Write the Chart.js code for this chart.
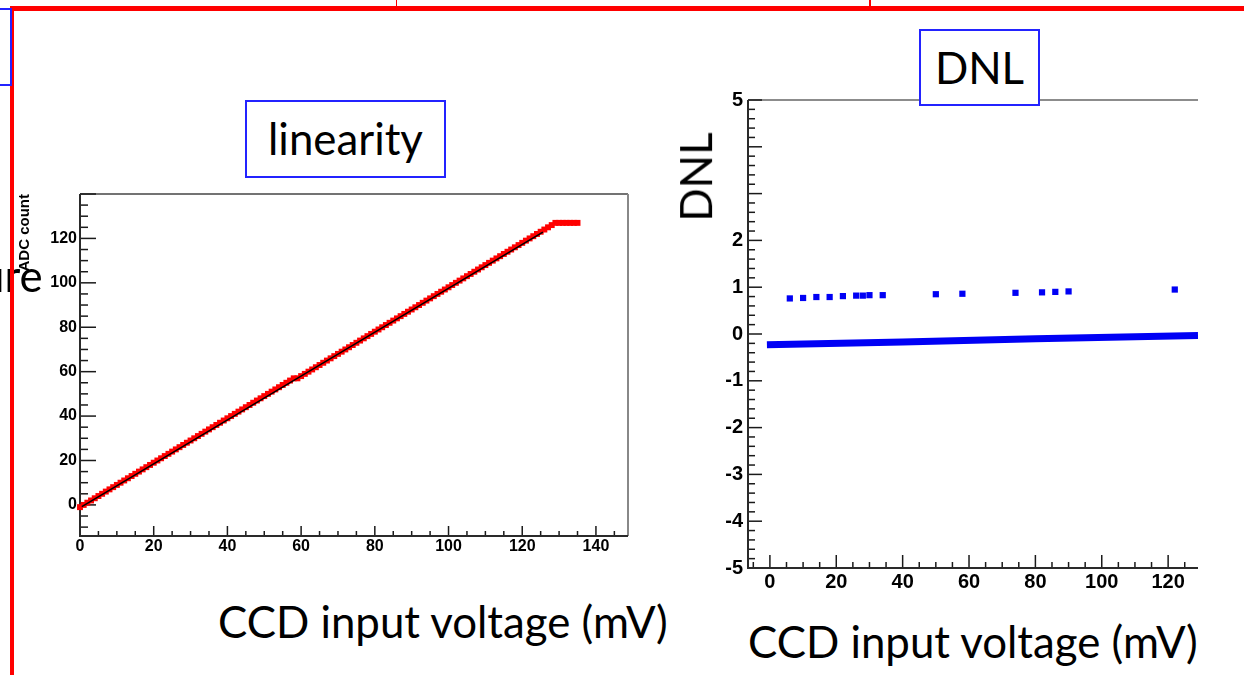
<!DOCTYPE html>
<html>
<head>
<meta charset="utf-8">
<script src="https://cdn.jsdelivr.net/npm/chart.js@4/dist/chart.umd.min.js"></script>
<style>
  html, body { margin: 0; padding: 0; background: #fff; overflow: hidden; }
  #slide { position: relative; width: 1244px; height: 675px; overflow: hidden; background: #fff; }
  canvas { position: absolute; }
  .txt { position: absolute; font-family: Lato, 'Open Sans', sans-serif; font-size: 43.8px; line-height: 1; color: #000; white-space: nowrap; }
  .box { position: absolute; box-sizing: border-box; border: 2px solid #2323ff; background: #fff;
         display: flex; align-items: center; justify-content: center; }
  .red { position: absolute; background: #ff0000; }
</style>
</head>
<body>
<div id="slide">
  <canvas id="linChart" width="630" height="380" style="left:10px;top:180px"></canvas>
  <canvas id="dnlChart" width="520" height="520" style="left:690px;top:85px"></canvas>

  <div class="txt" style="left:-20px;top:254px">ure</div>
  <div class="txt" style="left:218px;top:600px">CCD input voltage (mV)</div>
  <div class="txt" style="left:748px;top:620px">CCD input voltage (mV)</div>
  <div class="txt" style="left:696px;top:176.5px;transform:translate(-50%,-50%) rotate(-90deg)">DNL</div>

  <div class="red" style="left:9.5px;top:6.3px;width:1240px;height:4.4px"></div>
  <div class="red" style="left:9.5px;top:6.3px;width:4.5px;height:670px"></div>
  <div class="red" style="left:396.2px;top:0;width:1.3px;height:7px"></div>
  <div class="red" style="left:869.4px;top:0;width:1.3px;height:7px"></div>

  <div class="box" style="left:-3px;top:8px;width:15px;height:78px"></div>
  <div class="box txt" style="left:245px;top:100px;width:201px;height:78px">linearity</div>
  <div class="box txt" style="left:919px;top:29px;width:121px;height:77px">DNL</div>
</div>

<script>
// linearity scan: ADC output code per input step
const inputMv = [
  0, 1, 2, 3, 4, 5, 6, 7, 8, 9, 10, 11, 12, 13, 14, 15, 16, 17, 18, 19,
  20, 21, 22, 23, 24, 25, 26, 27, 28, 29, 30, 31, 32, 33, 34, 35, 36, 37, 38, 39,
  40, 41, 42, 43, 44, 45, 46, 47, 48, 49, 50, 51, 52, 53, 54, 55, 56, 57, 58, 59,
  60, 61, 62, 63, 64, 65, 66, 67, 68, 69, 70, 71, 72, 73, 74, 75, 76, 77, 78, 79,
  80, 81, 82, 83, 84, 85, 86, 87, 88, 89, 90, 91, 92, 93, 94, 95, 96, 97, 98, 99,
  100, 101, 102, 103, 104, 105, 106, 107, 108, 109, 110, 111, 112, 113, 114, 115, 116, 117, 118, 119,
  120, 121, 122, 123, 124, 125, 126, 127, 128, 129, 130, 131, 132, 133, 134, 135
];
const adcCount = [
  -1, 0, 1, 2, 3, 4, 5, 6, 7, 8, 9, 10, 11, 12, 13, 14, 15, 16, 17, 18,
  19, 20, 21, 22, 23, 24, 25, 26, 27, 28, 29, 30, 31, 32, 33, 34, 35, 36, 37, 38,
  39, 40, 41, 42, 43, 44, 45, 46, 47, 48, 49, 50, 51, 52, 53, 54, 55, 56, 57, 57,
  58, 59, 60, 61, 62, 63, 64, 65, 66, 67, 68, 69, 70, 71, 72, 73, 74, 75, 76, 77,
  78, 79, 80, 81, 82, 83, 84, 85, 86, 87, 88, 89, 90, 91, 92, 93, 94, 95, 96, 97,
  98, 99, 100, 101, 102, 103, 104, 105, 106, 107, 108, 109, 110, 111, 112, 113, 114, 115, 116, 117,
  118, 119, 120, 121, 122, 123, 124, 125, 126, 127, 127, 127, 127, 127, 127, 127
];
// straight-line fit over the linear range
const fitMv = [0.5, 125.6];
const fitCount = [-0.8, 122.8];

// DNL per code: bulk of codes and the wide ones
const dnlBandMv = [-0.9, 40, 80, 129];
const dnlBandVal = [-0.23, -0.17, -0.10, -0.03];
const dnlPeakMv = [6, 10, 14, 18, 22, 26, 28, 30, 34, 50, 58, 74, 82, 86, 90, 122];
const dnlPeakVal = [0.76, 0.77, 0.79, 0.79, 0.81, 0.82, 0.82, 0.83, 0.83, 0.85, 0.86, 0.88, 0.89, 0.90, 0.91, 0.95];

// tick labels
const linXTicks = [0, 20, 40, 60, 80, 100, 120, 140];
const linYTicks = [0, 20, 40, 60, 80, 100, 120];
const dnlXTicks = [0, 20, 40, 60, 80, 100, 120];
const dnlYTicks = [-5, -4, -3, -2, -1, 0, 1, 2, 5];

const pts = (xs, ys) => xs.map((x, i) => ({ x: x, y: ys[i] }));
const tickFont = size => ({ family: "'Liberation Sans', Arial, sans-serif", size: size, weight: 'bold' });

// ROOT-style frame: axis lines with ticks pointing into the plot
const rootAxes = {
  id: 'rootAxes',
  beforeDatasetsDraw(chart, args, o) {
    const { ctx, chartArea: a, scales: { x, y } } = chart;
    ctx.save();
    const seg = (x1, y1, x2, y2) => { ctx.beginPath(); ctx.moveTo(x1, y1); ctx.lineTo(x2, y2); ctx.stroke(); };

    // frame
    ctx.lineWidth = 1.5;
    if (o.topColor) { ctx.strokeStyle = o.topColor; seg(a.left, a.top, a.right, a.top); }
    if (o.rightColor) { ctx.lineWidth = 2; ctx.strokeStyle = o.rightColor; seg(a.right, a.top, a.right, a.bottom); }

    // ticks
    ctx.strokeStyle = '#1a1a1a';
    ctx.lineWidth = 1.5;
    for (let k = Math.ceil(x.min / o.xMinor); k <= Math.floor(x.max / o.xMinor); k++) {
      const px = x.getPixelForValue(k * o.xMinor);
      seg(px, a.bottom, px, a.bottom - (k % o.xPerMajor === 0 ? o.xMajorLen : o.xMinorLen));
    }
    for (let k = Math.ceil(y.min / o.yMinor - 1e-9); k <= Math.floor(y.max / o.yMinor + 1e-9); k++) {
      const py = y.getPixelForValue(k * o.yMinor);
      seg(a.left, py, a.left + (k % o.yPerMajor === 0 ? o.yMajorLen : o.yMinorLen), py);
    }

    // axis lines
    ctx.lineWidth = 2;
    ctx.strokeStyle = '#2a2a2a';
    seg(a.left, a.top, a.left, a.bottom + 1);
    seg(a.left - 1, a.bottom, a.right, a.bottom);
    ctx.restore();
  }
};

function fixScale(w, h) {
  return s => {
    if (w != null) s.width = w;
    if (h != null) s.height = h;
    s.paddingTop = 0; s.paddingBottom = 0; s.paddingLeft = 0; s.paddingRight = 0;
  };
}
const setTicks = list => s => { s.ticks = list.map(v => ({ value: v })); };

new Chart(document.getElementById('linChart'), {
  type: 'scatter',
  data: {
    datasets: [
      { data: pts(fitMv, fitCount), showLine: true, borderColor: '#000', borderWidth: 1.5,
        pointRadius: 0, order: 0 },
      { data: pts(inputMv, adcCount), backgroundColor: '#ff0000', borderWidth: 0,
        pointStyle: 'rect', pointRadius: 4.2, clip: false, order: 1 }
    ]
  },
  options: {
    responsive: false,
    animation: false,
    layout: { padding: { top: 14, right: 12, left: 0, bottom: 0 } },
    plugins: {
      legend: { display: false },
      tooltip: { enabled: false },
      rootAxes: { topColor: '#444', rightColor: '#888',
        xMinor: 5, xPerMajor: 4, xMajorLen: 10, xMinorLen: 5,
        yMinor: 5, yPerMajor: 4, yMajorLen: 16, yMinorLen: 8 }
    },
    scales: {
      x: {
        type: 'linear', min: 0, max: 148.7,
        grid: { display: false, drawTicks: false }, border: { display: false },
        afterBuildTicks: setTicks(linXTicks),
        afterFit: fixScale(null, 24),
        ticks: { font: tickFont(16), color: '#000', padding: 1, maxRotation: 0, autoSkip: false }
      },
      y: {
        type: 'linear', min: -14, max: 140,
        grid: { display: false, drawTicks: false }, border: { display: false },
        afterBuildTicks: setTicks(linYTicks),
        afterFit: fixScale(70, null),
        ticks: { font: tickFont(16), color: '#000', padding: 3, autoSkip: false },
        title: { display: true, text: 'ADC count', align: 'end', color: '#000',
          font: tickFont(15), padding: { top: 6, bottom: 0 } }
      }
    }
  },
  plugins: [rootAxes]
});

new Chart(document.getElementById('dnlChart'), {
  type: 'scatter',
  data: {
    datasets: [
      { data: pts(dnlBandMv, dnlBandVal), showLine: true, borderColor: '#0000f5', borderWidth: 7,
        borderCapStyle: 'butt', pointRadius: 0, order: 1 },
      { data: pts(dnlPeakMv, dnlPeakVal), backgroundColor: '#0000f5', borderWidth: 0,
        pointStyle: 'rect', pointRadius: 4.4, order: 0 }
    ]
  },
  options: {
    responsive: false,
    animation: false,
    layout: { padding: { top: 15, right: 12, left: 0, bottom: 0 } },
    plugins: {
      legend: { display: false },
      tooltip: { enabled: false },
      rootAxes: { topColor: '#666', rightColor: null,
        xMinor: 5, xPerMajor: 4, xMajorLen: 13, xMinorLen: 6,
        yMinor: 0.2, yPerMajor: 5, yMajorLen: 14, yMinorLen: 7 }
    },
    scales: {
      x: {
        type: 'linear', min: -6.6, max: 129,
        grid: { display: false, drawTicks: false }, border: { display: false },
        afterBuildTicks: setTicks(dnlXTicks),
        afterFit: fixScale(null, 37),
        ticks: { font: tickFont(20), color: '#000', padding: 2, maxRotation: 0, autoSkip: false }
      },
      y: {
        type: 'linear', min: -5, max: 5,
        grid: { display: false, drawTicks: false }, border: { display: false },
        afterBuildTicks: setTicks(dnlYTicks),
        afterFit: fixScale(58, null),
        ticks: { font: tickFont(20), color: '#000', padding: 5, autoSkip: false }
      }
    }
  },
  plugins: [rootAxes]
});
</script>
</body>
</html>
